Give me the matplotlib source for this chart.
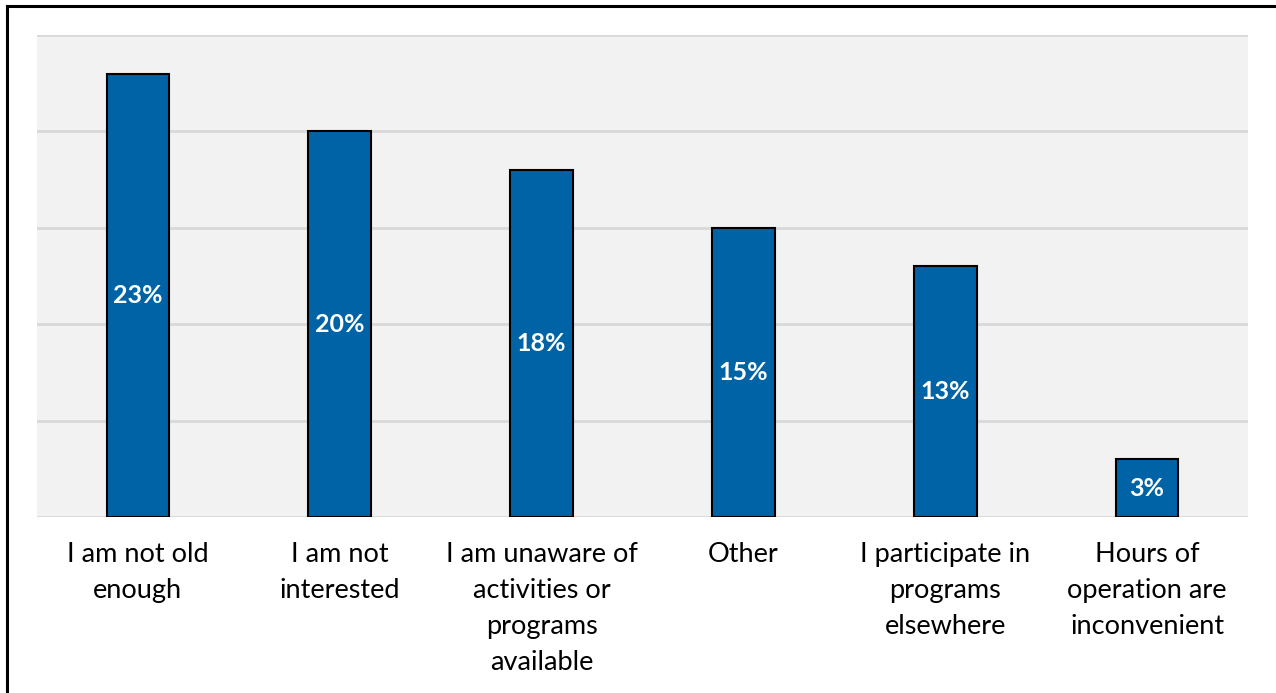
import matplotlib
matplotlib.use("Agg")
import matplotlib.pyplot as plt
from matplotlib.lines import Line2D

categories = ["I am not old\nenough", "I am not\ninterested", "I am unaware of\nactivities or\nprograms\navailable",
              "Other", "I participate in\nprograms\nelsewhere", "Hours of\noperation are\ninconvenient"]
values = [23, 20, 18, 15, 13, 3]
yticks = [0, 5, 10, 15, 20, 25]

plt.rcParams['font.family'] = ['Lato', 'DejaVu Sans']

W, H = 1276, 693
fig = plt.figure(figsize=(W / 100, H / 100), dpi=100)
ax = fig.add_axes([37 / W, 1 - 517 / H, (1248 - 37) / W, (517 - 35) / H])
ax.set_facecolor("#f2f2f2")

x = list(range(len(categories)))
bars = ax.bar(x, values, width=0.31, color="#0063a6", edgecolor="black", linewidth=1.5, zorder=3)
for xi, v in zip(x, values):
    ax.text(xi, v / 2, f"{v}%", ha="center", va="center", color="white",
            fontsize=18, fontweight="bold", zorder=4)

ax.set_xlim(-0.5, len(categories) - 0.5)
ax.set_ylim(0, 25)
ax.set_yticks(yticks)
ax.set_yticklabels([])
ax.tick_params(axis="y", length=0)
ax.grid(axis="y", color="#d9d9d9", linewidth=2, zorder=1)
ax.set_xticks(x)
ax.set_xticklabels(categories, fontsize=19.5, linespacing=1.55, va="top")
ax.tick_params(axis="x", length=0, pad=18)
for s in ax.spines.values():
    s.set_visible(False)

# figure border (top and left)
fig.add_artist(Line2D([7 / W, 7 / W], [0, 1 - 6 / H], transform=fig.transFigure, color="black", linewidth=2.2))
fig.add_artist(Line2D([7 / W, 1], [1 - 6 / H, 1 - 6 / H], transform=fig.transFigure, color="black", linewidth=2.2))

fig.savefig("out.png", dpi=100)
